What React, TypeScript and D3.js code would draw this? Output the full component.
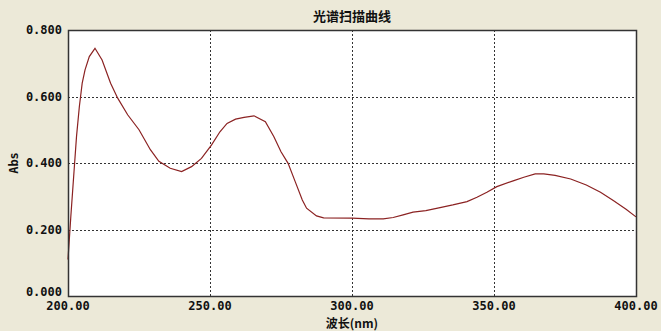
import React, { useRef, useEffect } from "react";
import * as d3 from "d3";

// spectrum scan (nm, Abs)
const wavelengths = [
  200, 201, 202, 203, 204, 205, 206, 207.5, 209.5, 212, 215, 217.5, 221, 225, 229, 232, 236, 240, 243.5, 247,
  250.5, 253.5, 256, 259, 262, 265.5, 269.5, 272.5, 275, 277.5, 280, 282.5, 284, 287.5, 290, 300, 306, 311,
  314.5, 318, 321.5, 326, 331, 335.5, 340.5, 344, 347.5, 351, 357, 360.5, 364.5, 367.5, 371.5, 377, 382.5,
  387.5, 392, 396.5, 400,
];
const absValues = [
  0.11, 0.24, 0.36, 0.48, 0.57, 0.64, 0.68, 0.72, 0.745, 0.71, 0.64, 0.595, 0.545, 0.5, 0.44, 0.405, 0.384, 0.374,
  0.389, 0.414, 0.454, 0.494, 0.519, 0.532, 0.537, 0.542, 0.524, 0.479, 0.434, 0.399, 0.344, 0.289, 0.264,
  0.241, 0.235, 0.234, 0.232, 0.232, 0.236, 0.244, 0.252, 0.257, 0.266, 0.274, 0.284, 0.297, 0.312, 0.329,
  0.347, 0.357, 0.367, 0.367, 0.363, 0.352, 0.334, 0.312, 0.287, 0.261, 0.238,
];
const xTicks = [200, 250, 300, 350, 400];
const yTicks = [0, 0.2, 0.4, 0.6, 0.8];
const title = "光谱扫描曲线";
const xTitle = "波长(nm)";
const yTitle = "Abs";

const App = () => {
  const chartRef = useRef<SVGSVGElement>(null);

  useEffect(() => {
    const width = 661;
    const height = 331;
    const margin = { top: 30, right: 25, bottom: 35, left: 68 };

    const svg = d3.select(chartRef.current);
    svg.selectAll("*").remove();
    svg.attr("width", width).attr("height", height);

    svg.append("rect").attr("width", width).attr("height", height).attr("fill", "#ece9d8");

    const x = d3.scaleLinear().domain([200, 400]).range([margin.left, width - margin.right]);
    const y = d3.scaleLinear().domain([0, 0.8]).range([height - margin.bottom, margin.top]);

    const left = margin.left;
    const right = width - margin.right;
    const top = margin.top;
    const bottom = height - margin.bottom;

    // plot area
    svg.append("rect")
      .attr("x", left)
      .attr("y", top)
      .attr("width", right - left)
      .attr("height", bottom - top)
      .attr("fill", "#fff");

    // dashed grid
    const grid = svg.append("g").attr("stroke", "#333").attr("stroke-dasharray", "2,2").attr("stroke-width", 1);
    grid.selectAll("line.gx")
      .data(xTicks.slice(1, -1))
      .enter()
      .append("line")
      .attr("x1", d => Math.round(x(d)) + 0.5)
      .attr("x2", d => Math.round(x(d)) + 0.5)
      .attr("y1", top)
      .attr("y2", bottom);
    grid.selectAll("line.gy")
      .data(yTicks.slice(1, -1))
      .enter()
      .append("line")
      .attr("x1", left)
      .attr("x2", right)
      .attr("y1", d => Math.round(y(d)) + 0.5)
      .attr("y2", d => Math.round(y(d)) + 0.5);

    // curve
    const pts = wavelengths.map((w, i) => [w, absValues[i]] as [number, number]);
    const line = d3.line<[number, number]>().x(d => x(d[0])).y(d => y(d[1]));
    svg.append("path")
      .datum(pts)
      .attr("d", line)
      .attr("fill", "none")
      .attr("stroke", "#8b2222")
      .attr("stroke-width", 1.2);

    // border
    svg.append("rect")
      .attr("x", left + 0.5)
      .attr("y", top + 0.5)
      .attr("width", right - left)
      .attr("height", bottom - top)
      .attr("fill", "none")
      .attr("stroke", "#333")
      .attr("stroke-width", 1.5);

    const mono = "'DejaVu Sans Mono', monospace";

    svg.append("g")
      .selectAll("text")
      .data(yTicks)
      .enter()
      .append("text")
      .attr("x", left - 6)
      .attr("y", d => Math.min(y(d) + 4, bottom))
      .attr("text-anchor", "end")
      .attr("font-family", mono)
      .attr("font-weight", "bold")
      .attr("font-size", 12)
      .attr("fill", "#111")
      .text(d => d3.format(".3f")(d));

    svg.append("g")
      .selectAll("text")
      .data(xTicks)
      .enter()
      .append("text")
      .attr("x", d => x(d))
      .attr("y", bottom + 14)
      .attr("text-anchor", "middle")
      .attr("font-family", mono)
      .attr("font-weight", "bold")
      .attr("font-size", 12)
      .attr("fill", "#111")
      .text(d => d3.format(".2f")(d));

    const cjk = "'Noto Sans CJK SC', sans-serif";

    svg.append("text")
      .attr("x", (left + right) / 2)
      .attr("y", 21)
      .attr("text-anchor", "middle")
      .attr("font-family", cjk)
      .attr("font-weight", "bold")
      .attr("font-size", 13)
      .attr("fill", "#111")
      .text(title);

    svg.append("text")
      .attr("x", (left + right) / 2)
      .attr("y", 328)
      .attr("text-anchor", "middle")
      .attr("font-family", cjk)
      .attr("font-weight", "bold")
      .attr("font-size", 12)
      .attr("fill", "#111")
      .text(xTitle);

    svg.append("text")
      .attr("transform", `translate(18, ${(top + bottom) / 2}) rotate(-90)`)
      .attr("text-anchor", "middle")
      .attr("font-family", mono)
      .attr("font-weight", "bold")
      .attr("font-size", 12)
      .attr("fill", "#111")
      .text(yTitle);
  }, []);

  return <svg ref={chartRef} style={{ position: "absolute", left: 0, top: 0 }}></svg>;
};

export default App;
